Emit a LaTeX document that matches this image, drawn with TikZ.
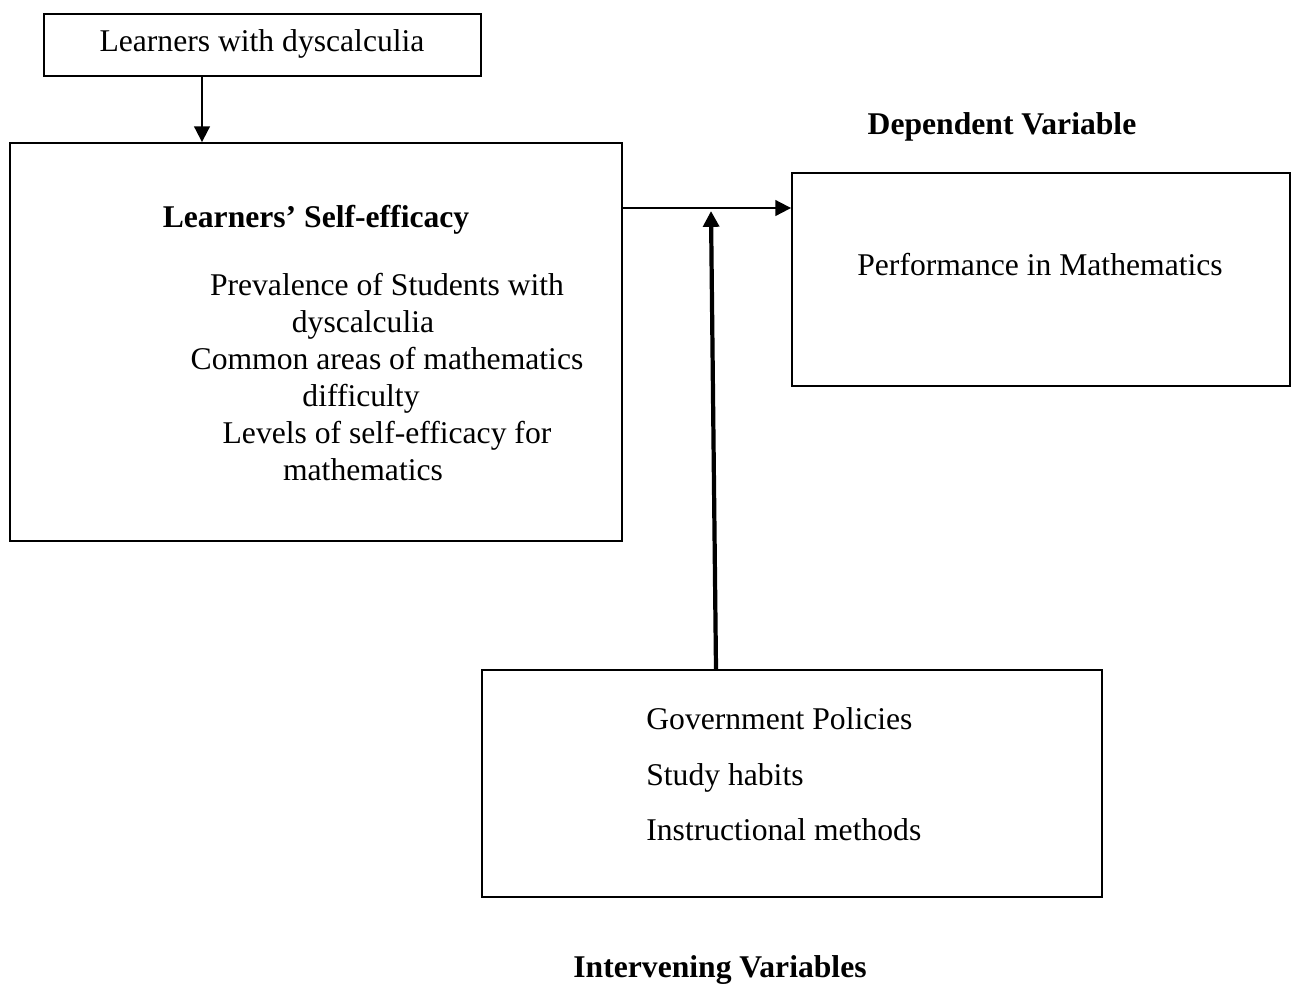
\documentclass[tikz,border=0pt]{standalone}
\usepackage{fontspec}
\setmainfont{Liberation Serif}
\usetikzlibrary{arrows.meta,positioning,calc}

\begin{document}
\begin{tikzpicture}[x=0.02cm, y=-0.02cm, font=\fontsize{18}{21}\selectfont,
  varbox/.style={draw, line width=1.1pt, inner sep=0pt},
  txt/.style={anchor=base, inner sep=0pt},
  head/.style={anchor=base, inner sep=0pt, font=\fontsize{18}{21}\selectfont\bfseries},
  link/.style={line width=1.1pt, -{Triangle[length=9pt, width=9pt]}},
  bigLink/.style={line width=2.4pt, -{Triangle[length=9pt, width=9pt]}}]

\useasboundingbox (0,0) rectangle (1292,985);

% learners box
\node[varbox, minimum width=8.74cm, minimum height=1.24cm] (learners) at (262.5,45) {};
\node[txt] (learnersTxt) at (262,51) {Learners with dyscalculia};

% self-efficacy box
\node[varbox, minimum width=12.24cm, minimum height=7.96cm] (efficacy) at (316,342) {};
\node[head] (efficacyHead) at (316,227) {Learners’ Self-efficacy};
\node[txt] (prev1) at (387,295) {Prevalence of Students with};
\node[txt] (prev2) at (363,332) {dyscalculia};
\node[txt] (area1) at (387,369) {Common areas of mathematics};
\node[txt] (area2) at (361,406) {difficulty};
\node[txt] (level1) at (387,443) {Levels of self-efficacy for};
\node[txt] (level2) at (363,480) {mathematics};

% dependent variable
\node[head] (depHead) at (1002,134) {Dependent Variable};
\node[varbox, minimum width=9.96cm, minimum height=4.26cm] (perf) at (1041,279.5) {};
\node[txt] (perfTxt) at (1040,275) {Performance in Mathematics};

% intervening variables
\node[varbox, minimum width=12.4cm, minimum height=4.54cm] (interv) at (792,783.5) {};
\node[txt, anchor=base west] (gov) at (646,729) {Government Policies};
\node[txt, anchor=base west] (study) at (646,785) {Study habits};
\node[txt, anchor=base west] (instr) at (646,840) {Instructional methods};
\node[head] (intervHead) at (720,977) {Intervening Variables};

% connectors
\draw[link] (learners.south -| 202,0) -- (efficacy.north -| 202,0);
\draw[link] (efficacy.east |- 0,208) -- (perf.west |- 0,208);
\coordinate (meet) at (711,211);
\draw[bigLink] (interv.north -| 716,0) -- (meet);
\end{tikzpicture}
\end{document}
